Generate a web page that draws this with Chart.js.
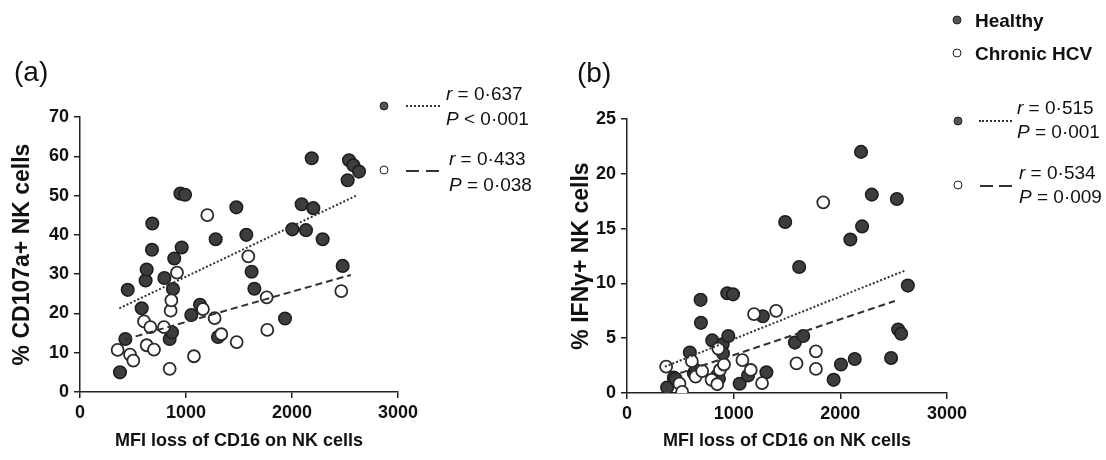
<!DOCTYPE html>
<html>
<head>
<meta charset="utf-8">
<script src="https://cdn.jsdelivr.net/npm/chart.js@4.4.0/dist/chart.umd.min.js"></script>
<style>
    body { margin: 0; width: 1106px; height: 460px; background: #fff; position: relative; overflow: hidden; font-family: "Liberation Sans", Arial, sans-serif; color: #111; }
    canvas { position: absolute; top: 0; }
    .lbl { position: absolute; white-space: nowrap; transform: translateY(-50%); line-height: 1; }
    .panel { font-size: 28px; }
    .grp { font-size: 19px; font-weight: bold; }
    .leg { font-size: 19px; }
    .dot { position: absolute; width: 7px; height: 7px; border-radius: 50%; transform: translate(-50%, -50%); border: 1.5px solid #222; }
    .dot.fill { background: #555; }
    .dot.open { background: #fff; }
    .dotted { position: absolute; height: 0; border-top: 2px dotted #333; }
    .dash { position: absolute; height: 2px; background: #333; }
</style>
</head>
<body>
<canvas id="chartA" width="560" height="460" style="left:0"></canvas>
<canvas id="chartB" width="546" height="460" style="left:560px"></canvas>

<div class="lbl panel" style="left:14px; top:72px">(a)</div>
<div class="lbl panel" style="left:577px; top:73px">(b)</div>

<!-- group legend -->
<div class="dot fill" style="left:957px; top:20px"></div>
<div class="lbl grp" style="left:975px; top:20px">Healthy</div>
<div class="dot open" style="left:957px; top:53px"></div>
<div class="lbl grp" style="left:975px; top:53px">Chronic HCV</div>

<!-- panel a correlation notes -->
<div class="dot fill" style="left:384px; top:106px"></div>
<div class="dotted" style="left:406px; width:34px; top:105px"></div>
<div class="lbl leg" style="left:446px; top:93px"><i>r</i> = 0·637</div>
<div class="lbl leg" style="left:446px; top:118px"><i>P</i> &lt; 0·001</div>
<div class="dot open" style="left:384px; top:170px"></div>
<div class="dash" style="left:406px; width:13px; top:170px"></div>
<div class="dash" style="left:426px; width:13px; top:170px"></div>
<div class="lbl leg" style="left:449px; top:158px"><i>r</i> = 0·433</div>
<div class="lbl leg" style="left:449px; top:184px"><i>P</i> = 0·038</div>

<!-- panel b correlation notes -->
<div class="dot fill" style="left:958px; top:121px"></div>
<div class="dotted" style="left:979px; width:33px; top:120px"></div>
<div class="lbl leg" style="left:1017px; top:107px"><i>r</i> = 0·515</div>
<div class="lbl leg" style="left:1017px; top:131px"><i>P</i> = 0·001</div>
<div class="dot open" style="left:958px; top:185px"></div>
<div class="dash" style="left:980px; width:13px; top:185px"></div>
<div class="dash" style="left:999px; width:13px; top:185px"></div>
<div class="lbl leg" style="left:1019px; top:172px"><i>r</i> = 0·534</div>
<div class="lbl leg" style="left:1019px; top:196px"><i>P</i> = 0·009</div>

<script>
// ---- data ----
const xTicks = [0, 1000, 2000, 3000];
const yTicksA = [0, 10, 20, 30, 40, 50, 60, 70];
const yTicksB = [0, 5, 10, 15, 20, 25];

// (a) % CD107a+ NK cells
const healthyA_x = [377, 428, 450, 582, 619, 629, 679, 682, 796, 846, 868, 877, 889, 947, 991, 959, 1050, 1132, 1280, 1302, 1475, 1569, 1619, 1645, 1934, 2003, 2091, 2132, 2186, 2201, 2289, 2478, 2525, 2538, 2579, 2632];
const healthyA_y = [5.0, 13.5, 26.0, 21.3, 28.4, 31.2, 36.2, 42.9, 29.0, 13.5, 15.2, 26.2, 34.0, 50.5, 50.2, 36.8, 19.6, 22.2, 38.9, 14.0, 47.0, 40.0, 30.6, 26.3, 18.7, 41.4, 47.8, 41.2, 59.5, 46.8, 38.9, 32.1, 53.9, 59.0, 57.7, 56.1];
const hcvA_x = [355, 472, 503, 604, 664, 629, 698, 792, 846, 855, 862, 915, 1075, 1160, 1201, 1270, 1333, 1478, 1588, 1761, 1767, 2465];
const hcvA_y = [10.7, 9.5, 8.0, 18.0, 16.5, 11.9, 10.8, 16.5, 5.9, 20.7, 23.3, 30.4, 9.1, 21.1, 45.0, 18.8, 14.7, 12.7, 34.5, 24.1, 15.8, 25.7];
const fitHealthyA = [[371, 21.3], [2616, 50.1]];
const fitHcvA = [[425, 13.4], [2554, 29.8]];

// (b) % IFNγ+ NK cells
const healthyB_x = [376, 439, 455, 589, 627, 643, 690, 693, 799, 846, 862, 897, 900, 950, 940, 994, 1056, 1135, 1273, 1307, 1483, 1574, 1614, 1652, 1937, 2006, 2094, 2135, 2194, 2204, 2295, 2476, 2530, 2542, 2570, 2633];
const healthyB_y = [0.5, 1.4, 1.3, 3.7, 1.8, 2.1, 8.5, 6.4, 4.8, 1.6, 1.3, 4.45, 3.6, 5.2, 9.1, 9.0, 0.85, 1.6, 7.0, 1.9, 15.6, 4.6, 11.5, 5.2, 1.2, 2.6, 14.0, 3.1, 22.0, 15.2, 18.1, 3.2, 17.7, 5.8, 5.4, 9.8];
const hcvB_x = [367, 492, 517, 608, 643, 705, 793, 846, 856, 871, 909, 1082, 1160, 1191, 1266, 1398, 1589, 1771, 1771, 1840];
const hcvB_y = [2.4, 0.85, 0.1, 2.9, 1.5, 2.0, 1.2, 0.8, 4.05, 2.1, 2.6, 3.0, 2.1, 7.2, 0.9, 7.5, 2.7, 3.8, 2.2, 17.4];
const fitHealthyB = [[355, 2.4], [2614, 11.2]];
const fitHcvB = [[402, 1.5], [2511, 8.4]];

const zip = (xs, ys) => xs.map((x, i) => ({ x, y: ys[i] }));
const pts = arr => arr.map(p => ({ x: p[0], y: p[1] }));

function makeChart(id, opts) {
    const { w, area, yTicks, yMax, yTitle, yTitlePad, healthy, hcv, fitH, fitC } = opts;
    const tickFont = { family: "Liberation Sans", size: 18, weight: "bold" };

    return new Chart(document.getElementById(id), {
        type: "scatter",
        data: {
            datasets: [
                {
                    type: "line", data: pts(fitH), borderColor: "#333", borderWidth: 2,
                    borderDash: [2, 2], pointRadius: 0, fill: false
                },
                {
                    type: "line", data: pts(fitC), borderColor: "#333", borderWidth: 2,
                    borderDash: [7, 4], pointRadius: 0, fill: false
                },
                {
                    data: hcv, pointRadius: 6, pointBackgroundColor: "#fff",
                    pointBorderColor: "#2a2a2a", pointBorderWidth: 1.8
                },
                {
                    data: healthy, pointRadius: 6.3, pointBackgroundColor: "#3d3d3d",
                    pointBorderColor: "#1c1c1c", pointBorderWidth: 1.5
                }
            ]
        },
        options: {
            responsive: false,
            animation: false,
            devicePixelRatio: 1,
            layout: { padding: { left: 0, top: area.top, right: w - area.right, bottom: 0 } },
            plugins: { legend: { display: false }, tooltip: { enabled: false } },
            scales: {
                x: {
                    type: "linear", min: 0, max: 3000,
                    afterBuildTicks: s => { s.ticks = xTicks.map(v => ({ value: v })); },
                    afterFit: s => { s.height = 460 - area.bottom; },
                    border: { display: true, color: "#222", width: 1.5 },
                    grid: { drawOnChartArea: false, color: "#222", lineWidth: 1.5, tickLength: 6 },
                    ticks: { color: "#111", font: tickFont, padding: 4, maxRotation: 0, callback: v => String(v) },
                    title: {
                        display: true, text: "MFI loss of CD16 on NK cells", color: "#111",
                        font: { family: "Liberation Sans", size: 18, weight: "bold" },
                        padding: { top: 0, bottom: 8 }
                    }
                },
                y: {
                    type: "linear", min: 0, max: yMax,
                    afterBuildTicks: s => { s.ticks = yTicks.map(v => ({ value: v })); },
                    afterFit: s => { s.width = area.left; },
                    border: { display: true, color: "#222", width: 1.5 },
                    grid: { drawOnChartArea: false, color: "#222", lineWidth: 1.5, tickLength: 6 },
                    ticks: { color: "#111", font: tickFont, padding: 5, callback: v => String(v) },
                    title: {
                        display: true, text: yTitle, color: "#111",
                        font: { family: "Liberation Sans", size: 23, weight: "bold" },
                        padding: { top: yTitlePad, bottom: 0 }
                    }
                }
            }
        }
    });
}

makeChart("chartA", {
    w: 560, area: { left: 80, right: 398, top: 117, bottom: 392 },
    yTicks: yTicksA, yMax: 70, yTitle: "% CD107a+ NK cells", yTitlePad: 9,
    healthy: zip(healthyA_x, healthyA_y), hcv: zip(hcvA_x, hcvA_y),
    fitH: fitHealthyA, fitC: fitHcvA
});

makeChart("chartB", {
    w: 546, area: { left: 67, right: 387, top: 119, bottom: 393 },
    yTicks: yTicksB, yMax: 25, yTitle: "% IFNγ+ NK cells", yTitlePad: 8,
    healthy: zip(healthyB_x, healthyB_y), hcv: zip(hcvB_x, hcvB_y),
    fitH: fitHealthyB, fitC: fitHcvB
});
</script>
</body>
</html>
